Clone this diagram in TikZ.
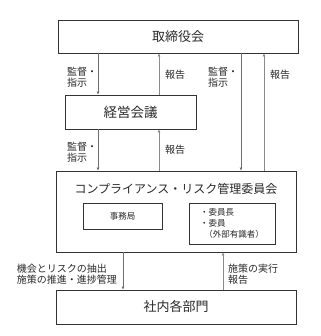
\documentclass[tikz,border=0pt]{standalone}
\usepackage{fontspec}
\setmainfont{Noto Sans CJK JP}
\usetikzlibrary{arrows.meta}
\definecolor{orgLine}{HTML}{333333}
\definecolor{orgArrow}{HTML}{8A8A8A}
\definecolor{orgText}{HTML}{2A2A2A}
\tikzset{
  orgbox/.style={draw=orgLine, line width=0.8pt, inner sep=0pt, text=orgText},
  bigbox/.style={orgbox, minimum width=240pt, minimum height=34pt, font=\fontsize{13}{15}\selectfont},
  subbox/.style={orgbox, font=\fontsize{8.5}{11}\selectfont},
  order/.style={-{Latex[length=3pt, width=3pt]}, line width=0.6pt, orgArrow!80!black},
  report/.style={-{Latex[length=3pt, width=3pt]}, line width=0.6pt, orgArrow},
  tag/.style={font=\fontsize{10}{11.5}\selectfont, text=orgText, align=left, inner sep=0pt}
}
\begin{document}
\begin{tikzpicture}[x=1pt, y=-1pt]
  \useasboundingbox[fill=white] (0,0) rectangle (320,336);
  % boxes
  \node[bigbox, minimum height=33pt] (board) at (178,36.5) {取締役会};
  \node[orgbox, minimum width=131pt, minimum height=34pt, font=\fontsize{13.5}{15}\selectfont] (mgmt) at (130.5,112) {経営会議};
  \node[orgbox, minimum width=240pt, minimum height=81pt] (crm) at (176,211.5) {};
  \node[text=orgText, font=\fontsize{12}{14}\selectfont, inner sep=0pt] (crmtitle) at (176,189) {コンプライアンス・リスク管理委員会};
  \node[subbox, minimum width=79pt, minimum height=26pt] (office) at (122.5,216) {事務局};
  \node[subbox, minimum width=86pt, minimum height=41pt, align=left] (members) at (232,223.5) {・委員長\\・委員\\\hspace{0.5em}（外部有識者）};
  \node[bigbox] (dept) at (176,307) {社内各部門};
  % connectors
  \draw[order] (board.south -| 98,0) -- (mgmt.north -| 98,0);
  \draw[report] (mgmt.north -| 159,0) -- (board.south -| 159,0);
  \draw[order] (board.south -| 241,0) -- (crm.north -| 241,0);
  \draw[report] (crm.north -| 264,0) -- (board.south -| 264,0);
  \draw[order] (mgmt.south -| 98,0) -- (crm.north -| 98,0);
  \draw[report] (crm.north -| 159,0) -- (mgmt.south -| 159,0);
  \draw[order] (crm.south -| 123,0) -- (dept.north -| 123,0);
  \draw[report] (dept.north -| 223,0) -- (crm.south -| 223,0);
  % labels
  \node[tag, anchor=west] (t1) at (67,77) {監督・\\指示};
  \node[tag, anchor=west] (t2) at (165,75) {報告};
  \node[tag, anchor=west] (t3) at (208,77) {監督・\\指示};
  \node[tag, anchor=west] (t4) at (270,75) {報告};
  \node[tag, anchor=west] (t5) at (67,152) {監督・\\指示};
  \node[tag, anchor=west] (t6) at (165,150) {報告};
  \node[tag, anchor=east, align=left] (t7) at (117,274) {機会とリスクの抽出\\施策の推進・進捗管理};
  \node[tag, anchor=west] (t8) at (228,274) {施策の実行\\報告};
\end{tikzpicture}
\end{document}
